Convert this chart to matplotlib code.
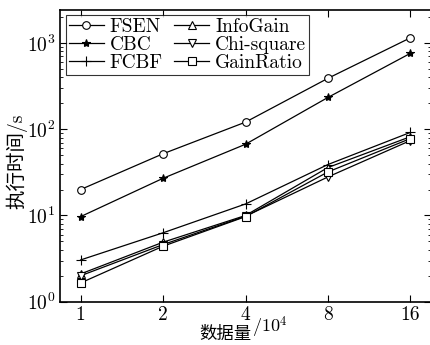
import numpy as np
import matplotlib
matplotlib.use("Agg")
import matplotlib.pyplot as plt
from matplotlib.ticker import LogLocator, NullFormatter

plt.rcParams["font.family"] = ["cmr10", "Noto Sans CJK SC"]
plt.rcParams["mathtext.fontset"] = "cm"
plt.rcParams["axes.formatter.use_mathtext"] = True
plt.rcParams["axes.unicode_minus"] = False

sizes = ["1", "2", "4", "8", "16"]
fsen = [20, 52, 121, 390, 1150]
cbc = [9.7, 27, 67, 234, 760]
fcbf = [3.05, 6.3, 13.6, 39, 92]
infogain = [2.1, 4.9, 10.0, 36, 82]
chi_square = [2.0, 4.6, 9.8, 28, 74]
gain_ratio = [1.65, 4.4, 9.7, 32, 78]

series = [
    ("FSEN", fsen, "o"),
    ("CBC", cbc, "*"),
    ("FCBF", fcbf, "+"),
    ("InfoGain", infogain, "^"),
    ("Chi-square", chi_square, "v"),
    ("GainRatio", gain_ratio, "s"),
]

W, H = 430, 345
fig = plt.figure(figsize=(W / 100, H / 100), dpi=100)
ax = fig.add_axes([60 / W, 1 - 301.7 / H, 371 / W, 292.2 / H])

x = np.arange(len(sizes))
for label, y, m in series:
    filled = m in ("*", "+")
    ax.plot(x, y, color="k", linewidth=0.9, marker=m,
            markersize=7 if m == "+" else (6 if m == "*" else 5.5),
            markerfacecolor="k" if filled else "white",
            markeredgecolor="k", markeredgewidth=0.8, label=label)

ax.set_yscale("log")
ax.set_ylim(1, 2450)
ax.set_xlim(-0.25, 4.25)
ax.set_xticks(x)
ax.set_xticklabels(sizes)
ax.yaxis.set_minor_locator(LogLocator(base=10, subs=np.arange(2, 10)))
ax.yaxis.set_minor_formatter(NullFormatter())

ax.tick_params(which="both", direction="in", top=True, right=True,
               labelsize=14)
ax.tick_params(which="major", length=5, width=0.8)
ax.tick_params(which="minor", length=2.5, width=0.6)
for s in ax.spines.values():
    s.set_linewidth(1.2)

leg = ax.legend(loc="upper left", ncol=2, fontsize=14, handlelength=1.8,
                handletextpad=0.3, columnspacing=0.6, labelspacing=0.0,
                borderpad=0.15, borderaxespad=0.3, fancybox=False)
leg.get_frame().set_edgecolor("k")
leg.get_frame().set_linewidth(0.8)

# y 轴标题：中文走 Noto，"/s" 走 cmr10
fig.text(17 / W, 1 - 161 / H, "执行时间/s", rotation=90, fontsize=14,
         ha="center", va="center")

# x 轴标题：中文 + 数学式上标分开画，再拼接
t1 = fig.text(199 / W, 2 / H, "数据量", fontsize=12.5,
              family=["Noto Sans CJK SC"], ha="left", va="bottom")
fig.canvas.draw()
bb = t1.get_window_extent()
fig.text((bb.x1 + 1) / W, bb.y0 / H + 3 / H, "$/10^4$", fontsize=13,
         ha="left", va="bottom")

fig.savefig("out.png", dpi=100)
